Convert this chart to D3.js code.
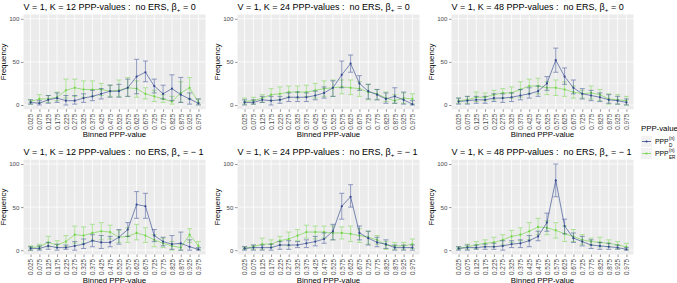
<!DOCTYPE html>
<html><head><meta charset="utf-8">
<script src="https://cdn.jsdelivr.net/npm/d3@7"></script>
<style>body{margin:0;background:#fff}svg{display:block;font-family:"Liberation Sans",Arial,sans-serif}.ttl{white-space:pre}</style>
</head><body><svg id="c" width="677" height="283"></svg>
<script>
const bins = ["0.025","0.075","0.125","0.175","0.225","0.275","0.325","0.375","0.425","0.475","0.525","0.575","0.625","0.675","0.725","0.775","0.825","0.875","0.925","0.975"];
const yTicks = [0, 50, 100];
const yMinor = [25, 75];
const kValues = [12, 24, 48];
const betaValues = ["0", "−1"];
const seriesNames = ["D", "ER"];

// Row 1: beta = 0 ; K = 12, 24, 48
const dMean_K12_b0 = [3,2,6,8,5,5,8,10,13,16,16,20,33,38,22,13,19,12,7,2];
const dLo_K12_b0   = [1,0,2,3,0,1,3,5,7,9,9,10,13,27,14,7,5,3,1,0];
const dHi_K12_b0   = [6,5,11,14,11,11,13,17,19,23,24,30,53,51,30,23,35,32,14,7];
const eMean_K12_b0 = [4,7,7,9,17,20,18,18,18,16,17,20,19,13,10,7,4,14,20,3];
const eLo_K12_b0   = [1,3,3,5,8,10,9,10,11,10,10,10,9,7,4,3,1,3,7,1];
const eHi_K12_b0   = [6,12,11,15,30,30,28,28,25,23,29,32,28,20,17,12,10,27,32,7];

const dMean_K24_b0 = [3,3,6,5,6,9,9,9,11,14,20,35,48,25,16,12,7,10,6,1];
const dLo_K24_b0   = [0,1,3,0,2,4,4,4,6,8,10,20,38,17,7,6,2,2,1,0];
const dHi_K24_b0   = [6,6,10,10,10,14,15,14,16,21,28,51,58,34,24,18,14,20,15,5];
const eMean_K24_b0 = [4,5,8,12,13,15,15,15,17,19,20,21,20,19,15,13,8,5,8,7];
const eLo_K24_b0   = [1,1,3,5,6,9,8,10,8,10,10,13,12,10,6,6,4,2,2,1];
const eHi_K24_b0   = [8,9,12,19,21,22,22,23,25,28,29,29,29,27,24,18,15,12,14,13];

const dMean_K48_b0 = [4,5,6,6,8,8,9,11,13,16,25,52,33,20,13,11,9,6,5,3];
const dLo_K48_b0   = [1,1,2,2,4,3,4,6,8,10,17,38,24,13,7,5,4,2,1,0];
const dHi_K48_b0   = [8,10,10,10,13,13,14,18,20,22,33,66,43,29,19,17,14,12,10,7];
const eMean_K48_b0 = [5,6,9,9,12,14,14,18,22,22,20,20,18,15,13,14,12,7,6,5];
const eLo_K48_b0   = [2,2,4,5,6,8,8,9,13,13,12,11,10,8,8,7,5,1,1,0];
const eHi_K48_b0   = [8,10,15,14,17,19,21,27,30,31,27,29,27,22,17,22,18,13,12,10];

// Row 2: beta = -1 ; K = 12, 24, 48
const dMean_K12_bm1 = [2,2,5,3,3,5,7,11,9,9,15,24,53,51,17,10,7,8,4,1];
const dLo_K12_bm1   = [0,0,1,0,1,0,2,4,2,4,7,16,37,37,10,5,1,0,0,0];
const dHi_K12_bm1   = [4,5,9,7,6,10,13,18,17,16,24,32,68,66,24,15,17,21,12,3];
const eMean_K12_bm1 = [3,4,9,6,10,18,17,20,22,21,15,16,20,17,12,8,5,3,18,5];
const eLo_K12_bm1   = [0,1,4,3,4,8,8,11,12,13,9,9,12,9,4,3,0,0,9,1];
const eHi_K12_bm1   = [5,7,16,11,17,28,27,30,32,29,23,26,30,26,18,14,10,7,25,10];

const dMean_K24_bm1 = [2,3,3,3,6,6,6,8,10,13,22,51,62,20,14,9,7,3,3,3];
const dLo_K24_bm1   = [0,0,0,0,1,1,3,3,5,8,12,36,50,12,6,4,2,0,0,0];
const dHi_K24_bm1   = [4,6,6,7,10,11,10,12,16,20,30,66,76,28,22,15,12,6,6,6];
const eMean_K24_bm1 = [2,4,7,7,11,13,17,21,21,21,20,20,19,17,15,12,6,5,5,7];
const eLo_K24_bm1   = [1,1,1,3,6,5,11,14,13,14,12,13,10,9,7,7,1,1,1,2];
const eHi_K24_bm1   = [4,6,14,12,16,21,24,29,28,28,28,27,28,25,22,17,10,9,9,13];

const dMean_K48_bm1 = [2,3,3,4,4,5,7,8,11,16,32,81,28,14,10,6,5,4,3,1];
const dLo_K48_bm1   = [0,0,1,1,1,0,3,3,4,11,22,62,19,9,5,2,1,1,1,0];
const dHi_K48_bm1   = [4,6,6,7,8,11,11,12,17,22,43,100,36,20,16,12,9,8,6,3];
const eMean_K48_bm1 = [2,4,6,8,9,12,16,18,22,27,26,23,19,16,12,10,9,8,6,4];
const eLo_K48_bm1   = [1,1,2,4,4,6,9,11,12,18,18,14,10,10,7,6,4,4,2,1];
const eHi_K48_bm1   = [4,7,10,12,15,18,23,26,32,37,34,32,28,24,18,14,15,12,10,8];

const panels = [
  {k:12, b:"0",  d:[dMean_K12_b0, dLo_K12_b0, dHi_K12_b0], e:[eMean_K12_b0, eLo_K12_b0, eHi_K12_b0]},
  {k:24, b:"0",  d:[dMean_K24_b0, dLo_K24_b0, dHi_K24_b0], e:[eMean_K24_b0, eLo_K24_b0, eHi_K24_b0]},
  {k:48, b:"0",  d:[dMean_K48_b0, dLo_K48_b0, dHi_K48_b0], e:[eMean_K48_b0, eLo_K48_b0, eHi_K48_b0]},
  {k:12, b:"−1", d:[dMean_K12_bm1, dLo_K12_bm1, dHi_K12_bm1], e:[eMean_K12_bm1, eLo_K12_bm1, eHi_K12_bm1]},
  {k:24, b:"−1", d:[dMean_K24_bm1, dLo_K24_bm1, dHi_K24_bm1], e:[eMean_K24_bm1, eLo_K24_bm1, eHi_K24_bm1]},
  {k:48, b:"−1", d:[dMean_K48_bm1, dLo_K48_bm1, dHi_K48_bm1], e:[eMean_K48_bm1, eLo_K48_bm1, eHi_K48_bm1]},
];

const BLUE = "#34488F", GREEN = "#72D548";
const colX = [23.5, 237.5, 451.5], PW = 182;
const rowY = [14.5, 159.7], PH = 94.8;
const svg = d3.select("#c");

panels.forEach((p, i) => {
  const x0 = colX[i % 3], y0 = rowY[Math.floor(i / 3)];
  const x = d3.scalePoint().domain(bins).range([x0, x0 + PW]).padding(0.8);
  const y = d3.scaleLinear().domain([-5, 105]).range([y0 + PH, y0]);
  const g = svg.append("g");

  // title
  const t = g.append("text").attr("class", "ttl").attr("x", x0).attr("y", y0 - 5).attr("font-size", 9).attr("fill", "#000");
  t.append("tspan").text(`V = 1, K = ${p.k} PPP-values :  no ERS, β`);
  t.append("tspan").attr("font-size", 6.2).attr("dy", 2).text("+");
  t.append("tspan").attr("dy", -2).text(` = ${p.b === "0" ? "0" : "− 1"}`);

  // panel bg
  g.append("rect").attr("x", x0).attr("y", y0).attr("width", PW).attr("height", PH).attr("fill", "#EBEBEB");
  g.selectAll(".ymin").data(yMinor).join("line")
    .attr("x1", x0).attr("x2", x0 + PW).attr("y1", d => y(d)).attr("y2", d => y(d))
    .attr("stroke", "#fff").attr("stroke-width", 0.4);
  g.selectAll(".ymaj").data(yTicks).join("line")
    .attr("x1", x0).attr("x2", x0 + PW).attr("y1", d => y(d)).attr("y2", d => y(d))
    .attr("stroke", "#fff").attr("stroke-width", 0.8);
  g.selectAll(".xmaj").data(bins).join("line")
    .attr("x1", d => x(d)).attr("x2", d => x(d)).attr("y1", y0).attr("y2", y0 + PH)
    .attr("stroke", "#fff").attr("stroke-width", 0.8);

  // axes
  const ya = g.append("g").attr("transform", `translate(${x0},0)`)
    .call(d3.axisLeft(y).tickValues(yTicks).tickSize(2.5).tickPadding(1.5));
  ya.select(".domain").remove();
  ya.selectAll("line").attr("stroke", "#333").attr("stroke-width", 0.5);
  ya.selectAll("text").attr("font-size", 6.2).attr("fill", "#4D4D4D").attr("font-family", "Liberation Sans, Arial, sans-serif");

  const xa = g.append("g").attr("transform", `translate(0,${y0 + PH})`)
    .call(d3.axisBottom(x).tickSize(2.5).tickPadding(1.5));
  xa.select(".domain").remove();
  xa.selectAll("line").attr("stroke", "#333").attr("stroke-width", 0.5);
  xa.selectAll("text").attr("font-size", 6.4).attr("fill", "#4D4D4D").attr("font-family", "Liberation Sans, Arial, sans-serif")
    .attr("transform", "rotate(-90)").attr("text-anchor", "end").attr("x", -4.5).attr("y", 0).attr("dy", "0.35em");

  g.append("text").attr("x", x0 + PW / 2).attr("y", y0 + PH + 28).attr("text-anchor", "middle")
    .attr("font-size", 7.8).attr("fill", "#000").text("Binned PPP-value");
  g.append("text").attr("transform", `translate(${x0 - 18},${y0 + PH / 2}) rotate(-90)`).attr("text-anchor", "middle")
    .attr("font-size", 7.8).attr("fill", "#000").text("Frequency");

  // series: ER first, D on top
  [[p.e, GREEN], [p.d, BLUE]].forEach(([s, col]) => {
    const [m, lo, hi] = s;
    const sg = g.append("g");
    const line = d3.line().x((d, j) => x(bins[j])).y(d => y(d));
    sg.append("path").attr("d", line(m)).attr("fill", "none").attr("stroke", col).attr("stroke-width", 0.8).attr("opacity", 0.8);
    const eb = sg.append("g").attr("stroke", col).attr("stroke-width", 0.8).attr("opacity", 0.65).attr("fill", "none");
    bins.forEach((b, j) => {
      const cx = x(b);
      eb.append("line").attr("x1", cx).attr("x2", cx).attr("y1", y(lo[j])).attr("y2", y(hi[j]));
      eb.append("line").attr("x1", cx - 2.5).attr("x2", cx + 2.5).attr("y1", y(lo[j])).attr("y2", y(lo[j]));
      eb.append("line").attr("x1", cx - 2.5).attr("x2", cx + 2.5).attr("y1", y(hi[j])).attr("y2", y(hi[j]));
    });
    sg.selectAll("circle").data(m).join("circle")
      .attr("cx", (d, j) => x(bins[j])).attr("cy", d => y(d)).attr("r", 1.1).attr("fill", col);
  });
});

// legend
const lg = svg.append("g");
lg.append("text").attr("x", 641).attr("y", 131).attr("font-size", 7.8).attr("fill", "#000").text("PPP-value");
[[BLUE, "D", 136], [GREEN, "ER", 148]].forEach(([col, sub, ky]) => {
  lg.append("rect").attr("x", 641).attr("y", ky).attr("width", 11).attr("height", 11).attr("fill", "#F2F2F2");
  lg.append("line").attr("x1", 642).attr("x2", 651).attr("y1", ky + 5.5).attr("y2", ky + 5.5).attr("stroke", col).attr("stroke-width", 0.8);
  lg.append("circle").attr("cx", 646.5).attr("cy", ky + 5.5).attr("r", 1.1).attr("fill", col);
  lg.append("text").attr("x", 655).attr("y", ky + 8).attr("font-size", 6.8).attr("fill", "#000").text("PPP");
  lg.append("text").attr("x", 669).attr("y", ky + 3.5).attr("font-size", 4.6).attr("fill", "#000").text("(n)");
  lg.append("text").attr("x", 669).attr("y", ky + 10.5).attr("font-size", 4.6).attr("fill", "#000").text(sub);
});
</script></body></html>
